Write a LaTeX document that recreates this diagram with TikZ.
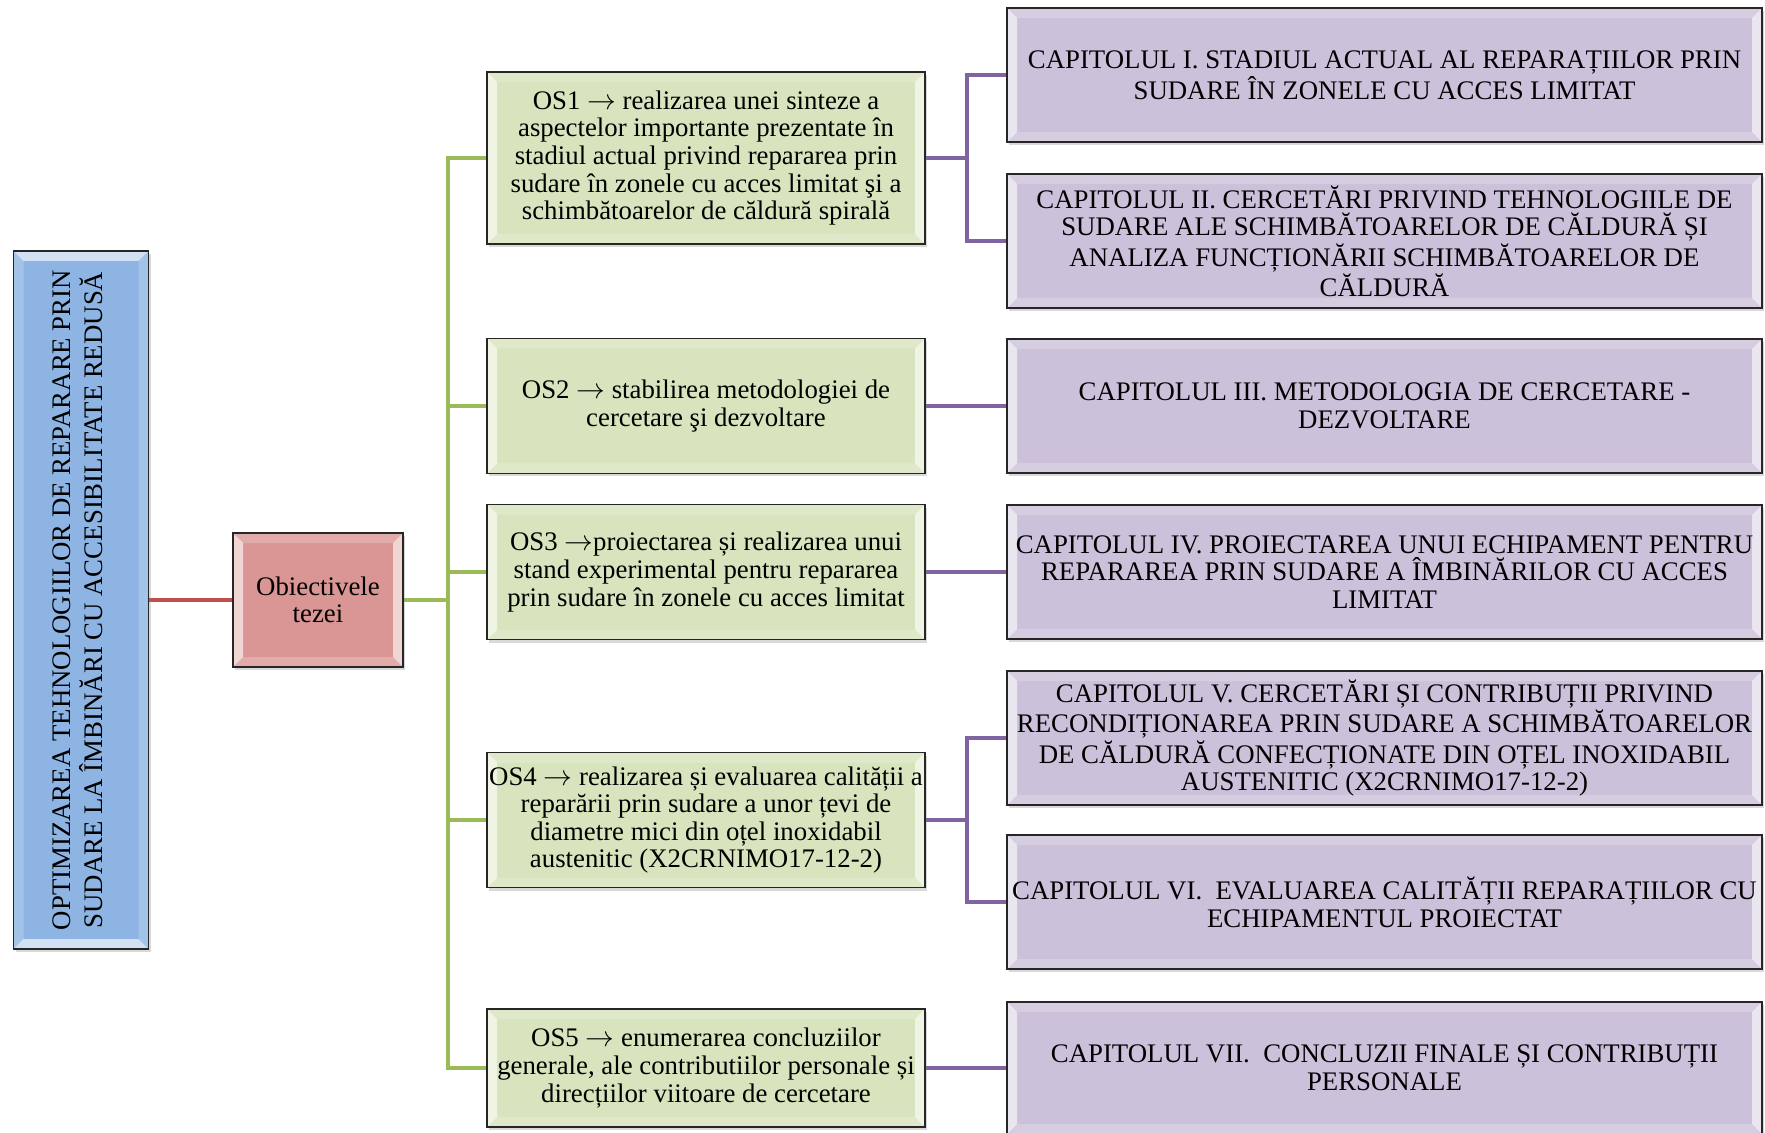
\documentclass[tikz,border=0pt]{standalone}
\usepackage{fontspec}
\setmainfont{Liberation Serif}
\usetikzlibrary{positioning}
\usetikzlibrary{calc}
\usetikzlibrary{shadows}
\usetikzlibrary{backgrounds}
\definecolor{titleblue}{RGB}{142,180,227}
\definecolor{objred}{RGB}{217,150,148}
\definecolor{osgreen}{RGB}{215,228,189}
\definecolor{chpurple}{RGB}{204,193,218}
\definecolor{linered}{RGB}{192,80,77}
\definecolor{linegreen}{RGB}{155,187,89}
\definecolor{linepurple}{RGB}{128,100,162}
\tikzset{bevel/.style 2 args={path picture={
           \path (path picture bounding box.south west) coordinate (bSW)
                 (path picture bounding box.north east) coordinate (bNE);
           \fill[white,opacity=#1] (bSW) -- (bSW|-bNE) -- ($(bSW|-bNE)+(5pt,-5pt)$) -- ($(bSW)+(5pt,5pt)$) -- cycle;
           \fill[white,opacity=#1] (bNE) -- (bNE|-bSW) -- ($(bNE|-bSW)+(-5pt,5pt)$) -- ($(bNE)+(-5pt,-5pt)$) -- cycle;
           \fill[white,opacity=#2] (bSW|-bNE) -- (bNE) -- ($(bNE)+(-5pt,-5pt)$) -- ($(bSW|-bNE)+(5pt,-5pt)$) -- cycle;
           \fill[white,opacity=#2] (bSW) -- (bNE|-bSW) -- ($(bNE|-bSW)+(-5pt,5pt)$) -- ($(bSW)+(5pt,5pt)$) -- cycle;
         }},
         box/.style={draw=black!85,line width=0.8pt,inner sep=0pt,align=center,
                     font=\fontsize{13.4}{13.8}\selectfont,
                     drop shadow={shadow xshift=1pt,shadow yshift=-1.5pt,opacity=0.3}},
         titlebox/.style={box,fill=titleblue,bevel={0.2}{0.6},minimum width=67.5pt,minimum height=349pt},
         objbox/.style={box,fill=objred,bevel={0.6}{0.2},minimum width=85pt,minimum height=67pt},
         osbox/.style={box,fill=osgreen,bevel={0.6}{0.2},minimum width=219pt,minimum height=67.5pt},
         chbox/.style={box,fill=chpurple,bevel={0.6}{0.2},minimum width=377.5pt,minimum height=67pt},
         link/.style={line width=2pt},
         }

\begin{document}
\begin{tikzpicture}[x=0.5pt,y=-0.5pt]
\useasboundingbox (0,0) rectangle (1765,1133);
\node[titlebox] (title) at (81,600) {\rotatebox{90}{\begin{tabular}{@{}c@{}}OPTIMIZAREA TEHNOLOGIILOR DE REPARARE PRIN\\SUDARE LA ÎMBINĂRI CU ACCESIBILITATE REDUSĂ\end{tabular}}};
\node[objbox] (obj) at (318,600) {Obiectivele\\tezei};

\node[osbox,minimum height=86pt] (os1) at (706,158) {OS1 $\rightarrow$ realizarea unei sinteze a\\aspectelor importante prezentate în\\stadiul actual privind repararea prin\\sudare în zonele cu acces limitat şi a\\schimbătoarelor de căldură spirală};
\node[osbox] (os2) at (706,406) {OS2 $\rightarrow$ stabilirea metodologiei de\\cercetare şi dezvoltare};
\node[osbox] (os3) at (706,572) {OS3 $\rightarrow$proiectarea și realizarea unui\\stand experimental pentru repararea\\prin sudare în zonele cu acces limitat};
\node[osbox] (os4) at (706,820) {OS4 $\rightarrow$ realizarea și evaluarea calității a\\reparării prin sudare a unor țevi de\\diametre mici din oțel inoxidabil\\austenitic (X2CRNIMO17-12-2)};
\node[osbox,minimum height=59pt] (os5) at (706,1068) {OS5 $\rightarrow$ enumerarea concluziilor\\generale, ale contributiilor personale și\\direcțiilor viitoare de cercetare};

\node[chbox] (ch1) at (1384.5,75) {CAPITOLUL I. STADIUL ACTUAL AL REPARAȚIILOR PRIN\\SUDARE ÎN ZONELE CU ACCES LIMITAT};
\node[chbox] (ch2) at (1384.5,241) {CAPITOLUL II. CERCETĂRI PRIVIND TEHNOLOGIILE DE\\SUDARE ALE SCHIMBĂTOARELOR DE CĂLDURĂ ȘI\\ANALIZA FUNCȚIONĂRII SCHIMBĂTOARELOR DE\\CĂLDURĂ};
\node[chbox] (ch3) at (1384.5,406) {CAPITOLUL III. METODOLOGIA DE CERCETARE -\\DEZVOLTARE};
\node[chbox] (ch4) at (1384.5,572) {CAPITOLUL IV. PROIECTAREA UNUI ECHIPAMENT PENTRU\\REPARAREA PRIN SUDARE A ÎMBINĂRILOR CU ACCES\\LIMITAT};
\node[chbox] (ch5) at (1384.5,738) {CAPITOLUL V. CERCETĂRI ȘI CONTRIBUȚII PRIVIND\\RECONDIȚIONAREA PRIN SUDARE A SCHIMBĂTOARELOR\\DE CĂLDURĂ CONFECȚIONATE DIN OȚEL INOXIDABIL\\AUSTENITIC (X2CRNIMO17-12-2)};
\node[chbox] (ch6) at (1384.5,902) {CAPITOLUL VI.\ \ EVALUAREA CALITĂȚII REPARAȚIILOR CU\\ECHIPAMENTUL PROIECTAT};
\node[chbox,minimum height=66pt] (ch7) at (1384.5,1068) {CAPITOLUL VII.\ \ CONCLUZII FINALE ȘI CONTRIBUȚII\\PERSONALE};

\begin{scope}[on background layer]
\draw[link,linered] (title.east) -- (obj.west);
\foreach \o in {os1,os2,os3,os4,os5}
  \draw[link,linegreen] (obj.east) -- ++(44,0) |- (\o.west);
\draw[link,linepurple] (os1.east) -- ++(41,0) |- (ch1.west);
\draw[link,linepurple] (os1.east) -- ++(41,0) |- (ch2.west);
\draw[link,linepurple] (os2.east) -- (ch3.west);
\draw[link,linepurple] (os3.east) -- (ch4.west);
\draw[link,linepurple] (os4.east) -- ++(41,0) |- (ch5.west);
\draw[link,linepurple] (os4.east) -- ++(41,0) |- (ch6.west);
\draw[link,linepurple] (os5.east) -- (ch7.west);
\end{scope}
\end{tikzpicture}
\end{document}
